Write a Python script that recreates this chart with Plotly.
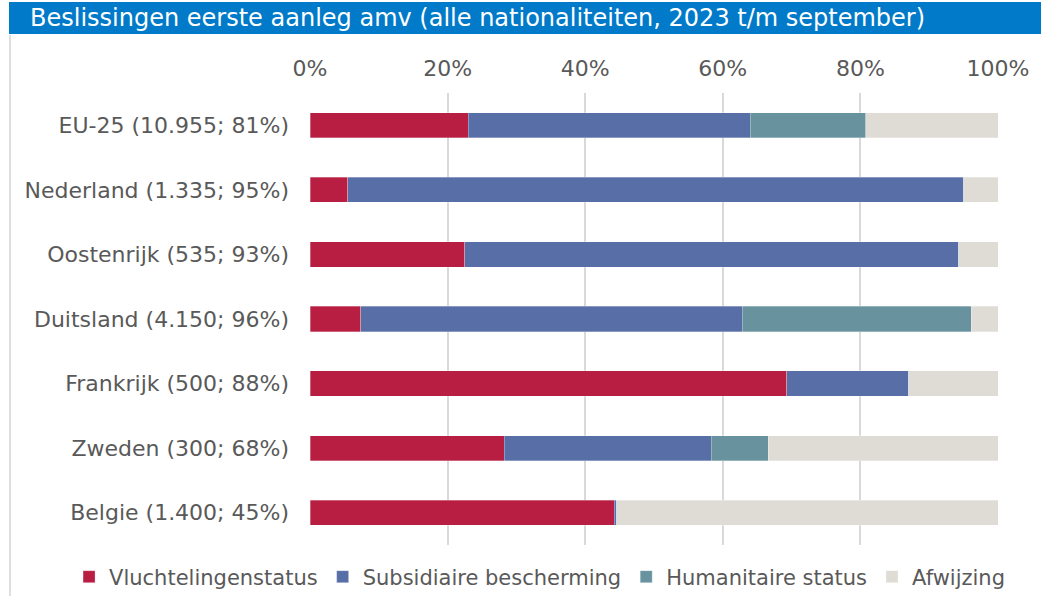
import plotly.graph_objects as go

categories = ["EU-25 (10.955; 81%)", "Nederland (1.335; 95%)", "Oostenrijk (535; 93%)",
              "Duitsland (4.150; 96%)", "Frankrijk (500; 88%)", "Zweden (300; 68%)",
              "Belgie (1.400; 45%)"]
series_names = ["Vluchtelingenstatus", "Subsidiaire bescherming", "Humanitaire status", "Afwijzing"]
vluchteling = [23.0, 5.5, 22.5, 7.4, 69.3, 28.2, 44.2]
subsidiair = [41.0, 89.5, 71.8, 55.4, 17.7, 30.1, 0.4]
humanitair = [16.8, 0.0, 0.0, 33.3, 0.0, 8.3, 0.0]
afwijzing = [19.2, 5.0, 5.7, 3.9, 13.0, 33.4, 55.4]
tick_vals = [0, 20, 40, 60, 80, 100]
tick_text = ["0%", "20%", "40%", "60%", "80%", "100%"]
title_text = "Beslissingen eerste aanleg amv (alle nationaliteiten, 2023 t/m september)"

colors = ["#B71E41", "#586EA7", "#68929E", "#DFDCD6"]
font_family = "DejaVu Sans, Verdana, sans-serif"

fig = go.Figure()
for name, vals, col in zip(series_names, [vluchteling, subsidiair, humanitair, afwijzing], colors):
    fig.add_trace(go.Bar(
        y=categories, x=vals, name=name, orientation="h",
        marker=dict(color=col, line=dict(width=0.6, color="rgba(255,255,255,0.5)")),
        width=0.39, hoverinfo="x+y+name",
    ))

fig.update_layout(
    width=1041, height=596,
    barmode="stack",
    plot_bgcolor="white", paper_bgcolor="white",
    margin=dict(l=310, r=43, t=93, b=51, autoexpand=False),
    font=dict(family=font_family, color="#595959", size=22),
    showlegend=True,
    legend=dict(orientation="h", xref="paper", yref="paper",
                x=-0.3502, xanchor="left", y=-0.0708, yanchor="middle",
                font=dict(size=21, color="#595959"), itemwidth=30,
                traceorder="normal", bgcolor="rgba(0,0,0,0)"),
    xaxis=dict(side="top", range=[0, 100], tickvals=tick_vals, ticktext=tick_text,
               showgrid=True, gridcolor="#D9D9D9", gridwidth=2, zeroline=False,
               showline=False, ticks="", ticklabelstandoff=12, fixedrange=True,
               automargin=False),
    yaxis=dict(autorange="reversed", showgrid=False, zeroline=False, showline=False,
               ticks="", ticklabelstandoff=20, fixedrange=True, automargin=False),
    bargap=0.61,
)

# Title bar
fig.add_shape(type="rect", xref="paper", yref="paper",
              x0=-301/688, x1=1.1, y0=1 + (93 - 34) / 452, y1=1 + (93 - 2) / 452,
              fillcolor="#007AC9", line=dict(width=0), layer="above")
fig.add_annotation(text=title_text, xref="paper", yref="paper",
                   x=-282/688, y=1 + (93 - 18) / 452, xanchor="left", yanchor="middle",
                   showarrow=False, font=dict(size=24, color="white", family=font_family))
# Left border line
fig.add_shape(type="line", xref="paper", yref="paper",
              x0=-300/688, x1=-300/688, y0=-51/452, y1=1 + (93 - 35) / 452,
              line=dict(color="#E0DEDA", width=2))

fig.write_html("out.html", config={"displayModeBar": False},
               post_script="document.body.style.margin='0px';document.body.style.overflow='hidden';")
